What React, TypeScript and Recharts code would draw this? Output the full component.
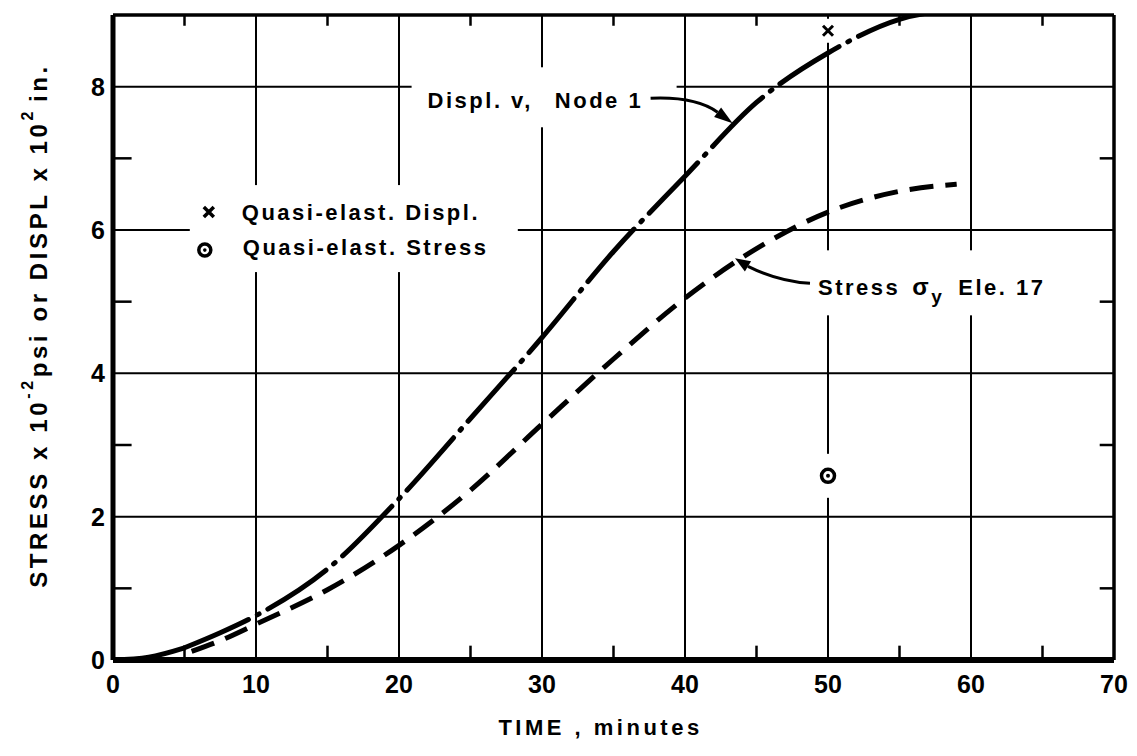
import {
  ComposedChart,
  Line,
  Scatter,
  XAxis,
  YAxis,
  CartesianGrid,
  ReferenceLine,
  ReferenceDot,
  Label,
} from "recharts";

// values
const displTime = [0, 2.5, 5, 7.5, 10, 15, 20, 25, 30, 35, 40, 45, 50, 55, 59.5];
const displValue = [0, 0.04, 0.17, 0.38, 0.62, 1.27, 2.25, 3.37, 4.5, 5.7, 6.75, 7.78, 8.47, 8.94, 9.08];

const stressTime = [5.5, 7.5, 10, 15, 20, 25, 30, 35, 40, 45, 50, 55, 59];
const stressValue = [0.12, 0.27, 0.5, 0.98, 1.6, 2.37, 3.29, 4.2, 5.05, 5.74, 6.25, 6.54, 6.64];

const quasiDispl = [{ t: 50, v: 8.78 }];
const quasiStress = [{ t: 50, v: 2.57 }];

const xTicks = [0, 10, 20, 30, 40, 50, 60, 70];
const yTicks = [0, 2, 4, 6, 8];
const minorX = [5, 15, 25, 35, 45, 55, 65];
const minorY = [1, 3, 5, 7];

const displData = displTime.map((t, i) => ({ t, v: displValue[i] }));
const displHead = displData.filter((d) => d.t <= 5);
const displTail = displData.filter((d) => d.t >= 5);
const stressData = stressTime.map((t, i) => ({ t, v: stressValue[i] }));

const FONT = '"Liberation Sans", Arial, sans-serif';
const INK = "#000";

const CrossMark = ({ cx, cy }: any) => (
  <g>
    <rect x={cx - 8} y={cy - 12} width={16} height={24} fill="#fff" />
    <path
      d={`M${cx - 5},${cy - 5}L${cx + 5},${cy + 5}M${cx + 5},${cy - 5}L${cx - 5},${cy + 5}`}
      stroke={INK}
      strokeWidth={3}
    />
  </g>
);

const CircleDot = ({ cx, cy }: any) => (
  <g>
    <rect x={cx - 7} y={cy - 22} width={14} height={44} fill="#fff" />
    <circle cx={cx} cy={cy} r={6.5} fill="#fff" stroke={INK} strokeWidth={3.5} />
    <circle cx={cx} cy={cy} r={2} fill={INK} />
  </g>
);

const textStyle = {
  fontFamily: FONT,
  fontWeight: 700,
  fontSize: 22,
  letterSpacing: 2.5,
  fill: INK,
};

const LegendNote = ({ cx, cy }: any) => (
  <g transform={`translate(${cx},${cy})`}>
    <rect x={-19} y={-27} width={328} height={87} fill="#fff" />
    <path d="M-5,-5L5,5M5,-5L-5,5" stroke={INK} strokeWidth={3.5} />
    <text x={33} y={8} style={textStyle}>
      Quasi-elast. Displ.
    </text>
    <circle cx={-4} cy={38} r={6} fill="#fff" stroke={INK} strokeWidth={3.5} />
    <circle cx={-4} cy={38} r={1.8} fill={INK} />
    <text x={34} y={43} style={textStyle}>
      Quasi-elast. Stress
    </text>
  </g>
);

const DisplNote = ({ cx, cy }: any) => (
  <g transform={`translate(${cx},${cy})`}>
    <rect x={-16} y={-33} width={265} height={60} fill="#fff" />
    <text x={0} y={8} style={textStyle}>
      <tspan>Displ. v,</tspan>
      <tspan dx={22}>Node 1</tspan>
    </text>
    <path d="M223,-2 Q268,-4 290,12" fill="none" stroke={INK} strokeWidth={3} />
    <path d="M305,23 L286.5,16.8 L293.5,7.2 Z" fill={INK} />
  </g>
);

const StressNote = ({ cx, cy }: any) => (
  <g transform={`translate(${cx},${cy})`}>
    <rect x={-13} y={-37} width={245} height={65} fill="#fff" />
    <text x={0} y={8} style={textStyle}>
      <tspan>Stress</tspan>
      <tspan dx={12} fontSize={24}>σ</tspan>
      <tspan dy={8} fontSize={19}>y</tspan>
      <tspan dy={-8} dx={14}>Ele. 17</tspan>
    </text>
    <path d="M-8,-4 Q-40,-6 -70,-21" fill="none" stroke={INK} strokeWidth={3} />
    <path d="M-83,-29 L-66.9,-26.1 L-73.1,-15.9 Z" fill={INK} />
  </g>
);

const YTitle = ({ viewBox }: any) => {
  const x = viewBox.x + 30;
  const y = viewBox.y + viewBox.height / 2 - 12;
  return (
    <text
      x={x}
      y={y}
      transform={`rotate(-90, ${x}, ${y})`}
      textAnchor="middle"
      dominantBaseline="central"
      style={{ ...textStyle, fontSize: 24, letterSpacing: 3.6 }}
    >
      <tspan>STRESS x 10</tspan>
      <tspan dy={-11} fontSize={16}>-2</tspan>
      <tspan dy={11}>psi or DISPL x 10</tspan>
      <tspan dy={-11} fontSize={16}>2</tspan>
      <tspan dy={11} dx={6}>in.</tspan>
    </text>
  );
};

const XTitle = ({ viewBox }: any) => {
  const x = viewBox.x + viewBox.width / 2 - 13;
  const y = viewBox.y + 75;
  return (
    <text x={x} y={y} textAnchor="middle" style={{ ...textStyle, fontSize: 22, letterSpacing: 3.5 }}>
      TIME , minutes
    </text>
  );
};

const tickStyle = { fontFamily: FONT, fontWeight: 700, fontSize: 25, fill: INK };

export default function App() {
  return (
    <div style={{ width: 1121, height: 740, background: "#fff" }}>
      <ComposedChart width={1121} height={740} margin={{ top: 7, right: 15, bottom: 0, left: 0 }}>
        <CartesianGrid stroke={INK} strokeWidth={2} />
        <XAxis
          dataKey="t"
          type="number"
          domain={[0, 70]}
          ticks={xTicks}
          allowDataOverflow
          height={88}
          tickSize={0}
          tickMargin={15}
          tick={tickStyle}
          axisLine={{ stroke: INK, strokeWidth: 6 }}
        >
          <Label content={XTitle} />
        </XAxis>
        <YAxis
          dataKey="v"
          type="number"
          domain={[0, 9]}
          ticks={yTicks}
          allowDataOverflow
          width={105}
          tickSize={0}
          tickMargin={8}
          tick={tickStyle}
          axisLine={{ stroke: INK, strokeWidth: 5 }}
        >
          <Label content={YTitle} />
        </YAxis>

        <ReferenceLine y={9} stroke={INK} strokeWidth={3.5} />
        <ReferenceLine x={70} stroke={INK} strokeWidth={3.5} />
        {minorX.map((t) => (
          <ReferenceLine key={`b${t}`} segment={[{ x: t, y: 0 }, { x: t, y: 0.2 }]} stroke={INK} strokeWidth={2.5} />
        ))}
        {minorX.map((t) => (
          <ReferenceLine key={`t${t}`} segment={[{ x: t, y: 9 }, { x: t, y: 8.85 }]} stroke={INK} strokeWidth={2.5} />
        ))}
        {minorY.map((v) => (
          <ReferenceLine key={`l${v}`} segment={[{ x: 0, y: v }, { x: 1.3, y: v }]} stroke={INK} strokeWidth={2.5} />
        ))}
        {minorY.map((v) => (
          <ReferenceLine key={`r${v}`} segment={[{ x: 69, y: v }, { x: 70, y: v }]} stroke={INK} strokeWidth={2.5} />
        ))}

        <ReferenceDot x={6.7} y={6.25} r={0} ifOverflow="visible" shape={LegendNote} />
        <ReferenceDot x={22} y={7.81} r={0} ifOverflow="visible" shape={DisplNote} />
        <ReferenceDot x={49.3} y={5.2} r={0} ifOverflow="visible" shape={StressNote} />

        <Line
          data={displHead}
          dataKey="v"
          type="monotone"
          stroke={INK}
          strokeWidth={5}
          dot={false}
          activeDot={false}
          isAnimationActive={false}
        />
        <Line
          data={displTail}
          dataKey="v"
          type="monotone"
          stroke={INK}
          strokeWidth={5}
          strokeDasharray="70 10 2 10"
          strokeLinecap="round"
          dot={false}
          activeDot={false}
          isAnimationActive={false}
        />
        <Line
          data={stressData}
          dataKey="v"
          type="monotone"
          stroke={INK}
          strokeWidth={5}
          strokeDasharray="24 12"
          dot={false}
          activeDot={false}
          isAnimationActive={false}
        />
        <Scatter data={quasiDispl} dataKey="v" shape={CrossMark} isAnimationActive={false} />
        <Scatter data={quasiStress} dataKey="v" shape={CircleDot} isAnimationActive={false} />
      </ComposedChart>
    </div>
  );
}
